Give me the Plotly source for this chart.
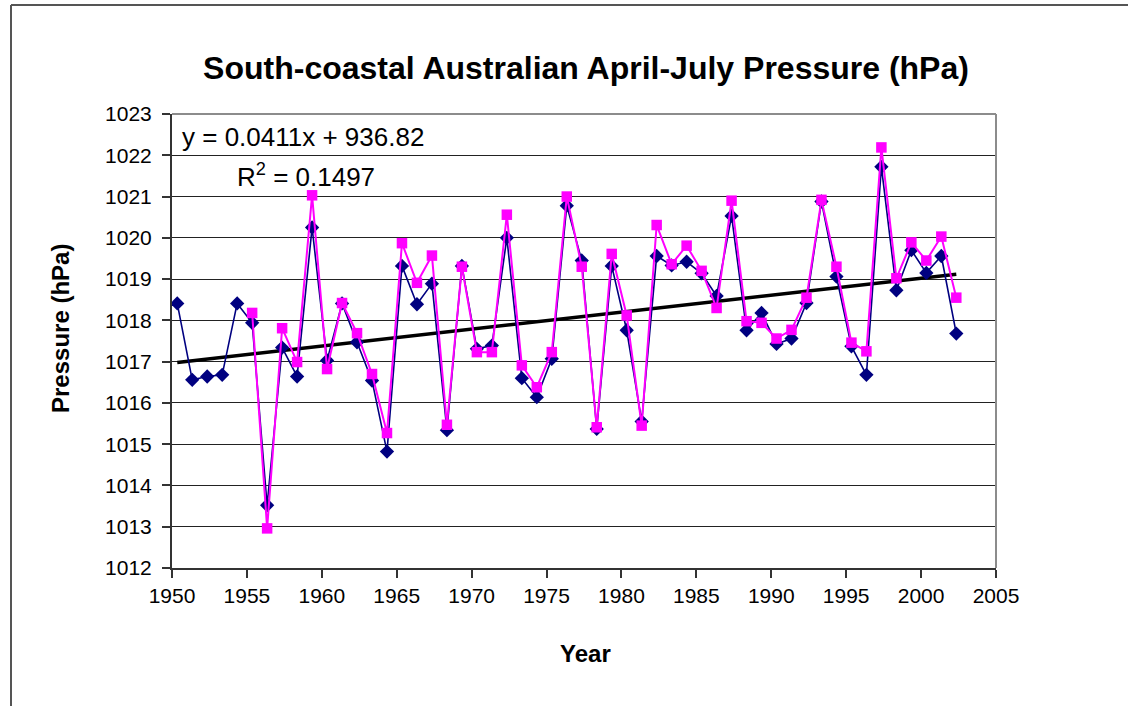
import plotly.graph_objects as go

# ---- data ----
years_navy = list(range(1950, 2003))
navy = [1018.41, 1016.56, 1016.64, 1016.68, 1018.41, 1017.94, 1013.52, 1017.34, 1016.64, 1020.25,
        1017.03, 1018.41, 1017.47, 1016.54, 1014.82, 1019.32, 1018.39, 1018.89, 1015.34, 1019.32,
        1017.31, 1017.39, 1020.00, 1016.60, 1016.14, 1017.07, 1020.78, 1019.45, 1015.37, 1019.32,
        1017.76, 1015.55, 1019.56, 1019.33, 1019.42, 1019.14, 1018.59, 1020.53, 1017.76, 1018.18,
        1017.43, 1017.56, 1018.42, 1020.88, 1019.06, 1017.37, 1016.68, 1021.72, 1018.73, 1019.70,
        1019.15, 1019.56, 1017.68]
years_pink = list(range(1955, 2003))
pink = [1018.18, 1012.96, 1017.81, 1016.99, 1021.03, 1016.82, 1018.42, 1017.69, 1016.70, 1015.27,
        1019.87, 1018.91, 1019.57, 1015.47, 1019.30, 1017.23, 1017.23, 1020.56, 1016.91, 1016.38,
        1017.23, 1021.00, 1019.30, 1015.41, 1019.61, 1018.12, 1015.45, 1020.31, 1019.36, 1019.81,
        1019.20, 1018.30, 1020.90, 1017.98, 1017.94, 1017.56, 1017.77, 1018.55, 1020.92, 1019.30,
        1017.46, 1017.25, 1022.19, 1019.02, 1019.89, 1019.45, 1020.03, 1018.55]
year_offset = 0.35          # points sit part-way through each year
slope, intercept = 0.0411, 936.82
x_ticks = list(range(1950, 2006, 5))
y_ticks = list(range(1012, 1024))

FONT = "Liberation Sans, Arial, sans-serif"

xn = [y + year_offset for y in years_navy]
xp = [y + year_offset for y in years_pink]
xt = [xn[0], xn[-1]]
yt = [slope * v + intercept for v in xt]

fig = go.Figure()
fig.add_trace(go.Scatter(x=xt, y=yt, mode="lines",
                         line=dict(color="black", width=3.5), showlegend=False))
fig.add_trace(go.Scatter(x=xn, y=navy, mode="lines+markers",
                         line=dict(color="#000080", width=1.6),
                         marker=dict(symbol="diamond", size=11, color="#000080"),
                         showlegend=False))
fig.add_trace(go.Scatter(x=xp, y=pink, mode="lines+markers",
                         line=dict(color="#FF00FF", width=2),
                         marker=dict(symbol="square", size=10.5, color="#FF00FF"),
                         showlegend=False))

L, R, T, B = 172, 132, 114, 138
W, H = 1128, 706
pw, ph = W - L - R, H - T - B

def px_x(p):
    return (p - L) / pw

def px_y(p):
    return (H - B - p) / ph

fig.update_layout(
    width=W, height=H,
    margin=dict(l=L, r=R, t=T, b=B),
    paper_bgcolor="white", plot_bgcolor="white",
    font=dict(family=FONT, color="black"),
    title=dict(text="<b>South-coastal Australian April-July Pressure (hPa)</b>",
               x=px_x(586), xref="paper", xanchor="center",
               y=1 - 68 / H, yref="container", yanchor="middle",
               font=dict(size=32, family=FONT, color="black")),
    xaxis=dict(range=[1950, 2005], tickvals=x_ticks, ticktext=[str(v) for v in x_ticks],
               showgrid=False, zeroline=False,
               showline=True, linecolor="#333333", linewidth=2,
               ticks="outside", ticklen=8, tickwidth=1.5, tickcolor="#333333",
               tickfont=dict(size=21, family=FONT, color="black")),
    yaxis=dict(range=[1012, 1023], tickvals=y_ticks, ticktext=[str(v) for v in y_ticks],
               showgrid=True, gridcolor="#222222", gridwidth=1, zeroline=False,
               showline=True, linecolor="#333333", linewidth=2,
               ticks="outside", ticklen=8, tickwidth=1.5, tickcolor="#333333",
               ticklabelstandoff=6,
               tickfont=dict(size=21, family=FONT, color="black")),
    shapes=[
        dict(type="line", xref="paper", yref="paper", x0=0, x1=1, y0=1, y1=1,
             line=dict(color="#8c8c8c", width=2)),
        dict(type="line", xref="paper", yref="paper", x0=1, x1=1, y0=0, y1=1,
             line=dict(color="#8c8c8c", width=2)),
        dict(type="line", xref="paper", yref="paper", x0=px_x(11), x1=px_x(W + 5),
             y0=px_y(5), y1=px_y(5), line=dict(color="#555555", width=2)),
        dict(type="line", xref="paper", yref="paper", x0=px_x(11), x1=px_x(11),
             y0=px_y(5), y1=px_y(H + 5), line=dict(color="#555555", width=2)),
    ],
    annotations=[
        dict(text="y = 0.0411x + 936.82", xref="paper", yref="paper",
             x=px_x(180), y=px_y(137), xanchor="left", yanchor="middle",
             showarrow=False, font=dict(size=26, family=FONT, color="black")),
        dict(text="R<sup>2</sup> = 0.1497", xref="paper", yref="paper",
             x=px_x(235), y=px_y(175), xanchor="left", yanchor="middle",
             showarrow=False, font=dict(size=26, family=FONT, color="black")),
        dict(text="<b>Pressure (hPa)</b>", xref="paper", yref="paper",
             x=px_x(60), y=px_y(329), xanchor="center", yanchor="middle",
             textangle=-90, showarrow=False,
             font=dict(size=24, family=FONT, color="black")),
        dict(text="<b>Year</b>", xref="paper", yref="paper",
             x=px_x(585), y=px_y(653), xanchor="center", yanchor="middle",
             showarrow=False, font=dict(size=24, family=FONT, color="black")),
    ],
)

fig.write_html("out.html", config={"displayModeBar": False},
               post_script="document.body.style.margin='0';")
